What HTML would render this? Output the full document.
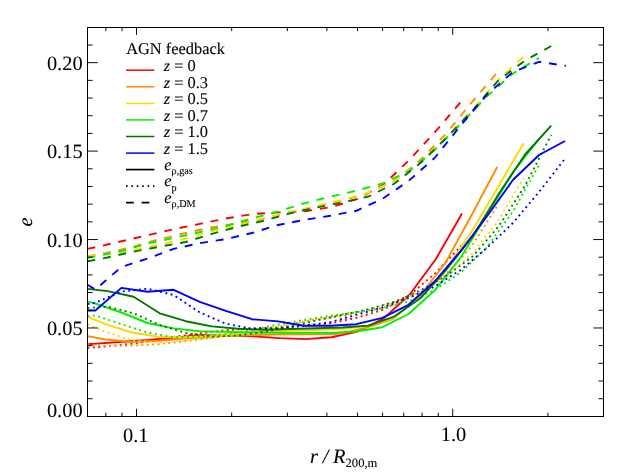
<!DOCTYPE html>
<html><head><meta charset="utf-8"><title>chart</title>
<style>html,body{margin:0;padding:0;background:#fff;}body{width:629px;height:472px;position:relative;overflow:hidden;font-family:"Liberation Serif",serif;}</style>
</head><body>
<svg width="629" height="472" viewBox="0 0 629 472" style="position:absolute;left:0;top:0;will-change:transform;text-rendering:geometricPrecision">
<rect x="0" y="0" width="629" height="472" fill="#fff"/>
<polyline points="87.5,344.2 96.6,343.6 122.7,341.8 148.8,340 174.9,337.5 201.0,335.2 227.1,335.4 253.2,336.3 279.3,338.1 305.4,339.1 331.5,337.2 357.6,331.5 383.7,318.4 409.8,294.5 435.9,259 462.0,213.5" fill="none" stroke="#ff0000" stroke-width="1.9" stroke-linejoin="round"/>
<polyline points="87.5,347.8 96.6,347.3 122.7,344.8 148.8,341.3 174.9,336.8 201.0,333.3 227.1,330.1 253.2,328.2 279.3,327.6 305.4,326 331.5,323.2 357.6,317.5 383.7,309.5 409.8,295 435.9,272.6 462.0,245" fill="none" stroke="#ff0000" stroke-width="1.9" stroke-linejoin="round" stroke-dasharray="1.9 3.5"/>
<polyline points="87.5,248.9 96.6,247 122.7,241 148.8,234.9 174.9,229 201.0,223.6 227.1,218.3 253.2,214 279.3,212.4 305.4,211.2 331.5,207 357.6,198.9 383.7,184.5 409.8,159.5 435.9,131 462.0,100.5" fill="none" stroke="#ff0000" stroke-width="1.9" stroke-linejoin="round" stroke-dasharray="7.9 7.85"/>
<polyline points="87.5,336.1 105.7,339.5 131.8,342 157.9,340.8 184.0,338.5 210.1,336.8 236.2,335.5 262.3,334.8 288.4,334.3 314.5,334.4 340.6,333.8 366.7,327.5 392.8,319 418.9,297 445.0,263.5 471.1,216 497.2,167" fill="none" stroke="#ff8c00" stroke-width="1.9" stroke-linejoin="round"/>
<polyline points="87.5,344.2 105.7,346 131.8,345.6 157.9,344.2 184.0,341.3 210.1,338 236.2,334.5 262.3,330 288.4,324.7 314.5,319.6 340.6,316.2 366.7,312.5 392.8,305 418.9,293.5 445.0,275.5 471.1,247 497.2,206" fill="none" stroke="#ff8c00" stroke-width="1.9" stroke-linejoin="round" stroke-dasharray="1.9 3.5"/>
<polyline points="87.5,256.2 105.7,253 131.8,247.3 157.9,239.6 184.0,233.4 210.1,227.5 236.2,223.6 262.3,219 288.4,213 314.5,207 340.6,201 366.7,193.5 392.8,182 418.9,161.5 445.0,134.9 471.1,103.2 497.2,72.5" fill="none" stroke="#ff8c00" stroke-width="1.9" stroke-linejoin="round" stroke-dasharray="7.9 7.85"/>
<polyline points="87.5,316.5 106.0,324.3 132.1,332.5 158.2,336.8 184.3,337.3 210.4,336 236.5,333.5 262.6,331.5 288.7,330.8 314.8,330 340.9,329 367.0,326 393.1,318 419.2,298.5 445.3,270.5 471.4,232 497.5,188 523.6,143.2" fill="none" stroke="#ffd700" stroke-width="1.9" stroke-linejoin="round"/>
<polyline points="87.5,324.3 106.0,332 132.1,340.3 158.2,342.5 184.3,340.5 210.4,338.3 236.5,334 262.6,329.5 288.7,324.5 314.8,319.5 340.9,315.5 367.0,310 393.1,302.5 419.2,292.3 445.3,278 471.4,254.5 497.5,222 523.6,178" fill="none" stroke="#ffd700" stroke-width="1.9" stroke-linejoin="round" stroke-dasharray="1.9 3.5"/>
<polyline points="87.5,256.5 106.0,254 132.1,250.3 158.2,245 184.3,239 210.4,231.6 236.5,225.3 262.6,218.7 288.7,212.5 314.8,206.2 340.9,200.2 367.0,193.2 393.1,181.5 419.2,163 445.3,138.5 471.4,111.3 497.5,80.5 523.6,56.8" fill="none" stroke="#ffd700" stroke-width="1.9" stroke-linejoin="round" stroke-dasharray="7.9 7.85"/>
<polyline points="87.5,301.6 95.3,303.5 121.4,312.5 147.5,323 173.6,328.4 199.7,331.2 225.8,331.9 251.9,332.5 278.0,332.8 304.1,332.9 330.2,332.9 356.3,331.5 382.4,327.2 408.5,314 434.6,290.5 460.7,257.5 486.8,215.3 512.9,172.5 539.0,139" fill="none" stroke="#00f000" stroke-width="1.9" stroke-linejoin="round"/>
<polyline points="87.5,316 95.3,315.5 121.4,324.2 147.5,332.6 173.6,337.3 199.7,336.8 225.8,334 251.9,330 278.0,324.5 304.1,320 330.2,315.8 356.3,312.3 382.4,308.2 408.5,301.5 434.6,290 460.7,272.6 486.8,247.6 512.9,211.5 539.0,165" fill="none" stroke="#00f000" stroke-width="1.9" stroke-linejoin="round" stroke-dasharray="1.9 3.5"/>
<polyline points="87.5,257.8 95.3,256.4 121.4,251 147.5,243.5 173.6,238 199.7,232.2 225.8,226 251.9,218.5 278.0,211.5 304.1,203.3 330.2,196.7 356.3,190.7 382.4,183.5 408.5,171.5 434.6,150 460.7,124 486.8,96.5 512.9,73.5 539.0,58" fill="none" stroke="#00f000" stroke-width="1.9" stroke-linejoin="round" stroke-dasharray="7.9 7.85"/>
<polyline points="87.5,288.9 107.5,291.1 133.6,296.8 159.7,313.3 185.8,321.2 211.9,326.4 238.0,328.8 264.1,329.8 290.2,329 316.3,328.3 342.4,327.5 368.5,325.6 394.6,316.3 420.7,298 446.8,269 472.9,236 499.0,193.5 525.1,154.5 551.2,125.7" fill="none" stroke="#007800" stroke-width="1.9" stroke-linejoin="round"/>
<polyline points="87.5,308 107.5,306.6 133.6,313.3 159.7,325 185.8,333 211.9,336.6 238.0,335.4 264.1,332 290.2,326.5 316.3,320.5 342.4,314.8 368.5,309.3 394.6,301.8 420.7,290.3 446.8,275.5 472.9,256.3 499.0,225.9 525.1,185.6 551.2,135" fill="none" stroke="#007800" stroke-width="1.9" stroke-linejoin="round" stroke-dasharray="1.9 3.5"/>
<polyline points="87.5,261.3 107.5,257.5 133.6,251.6 159.7,246.7 185.8,242 211.9,233.9 238.0,226.7 264.1,220.7 290.2,213.3 316.3,207.5 342.4,202.5 368.5,196.5 394.6,183.5 420.7,162.8 446.8,137.5 472.9,110 499.0,79.8 525.1,60.5 551.2,46" fill="none" stroke="#007800" stroke-width="1.9" stroke-linejoin="round" stroke-dasharray="7.9 7.85"/>
<polyline points="87.5,310.5 95.3,310.5 121.4,287.9 147.5,291.7 173.6,289.8 199.7,301.8 225.8,310.8 251.9,319.2 278.0,321.4 304.1,325.7 330.2,325.8 356.3,324.2 382.4,317.9 408.5,304.8 434.6,281.5 460.7,251 486.8,216.5 512.9,180 539.0,155 565.1,141" fill="none" stroke="#0000ff" stroke-width="1.9" stroke-linejoin="round"/>
<polyline points="87.5,304.1 95.3,302.8 121.4,291.5 147.5,288.7 173.6,295 199.7,312.4 225.8,323.7 251.9,328.8 278.0,328.3 304.1,325.5 330.2,322.2 356.3,314.9 382.4,307.4 408.5,297.8 434.6,286.5 460.7,270 486.8,248 512.9,223 539.0,192 565.1,158.5" fill="none" stroke="#0000ff" stroke-width="1.9" stroke-linejoin="round" stroke-dasharray="1.9 3.5"/>
<polyline points="87.5,284.8 95.3,289.5 121.4,267 147.5,258.5 173.6,248.9 199.7,243.2 225.8,239.1 251.9,233 278.0,225 304.1,220 330.2,215.8 356.3,210.8 382.4,198.9 408.5,181 434.6,158 460.7,125.5 486.8,94.8 512.9,72 539.0,61.8 565.1,65.7 566.0,65.85" fill="none" stroke="#0000ff" stroke-width="1.9" stroke-linejoin="round" stroke-dasharray="7.9 7.85"/>
<rect x="87.5" y="27.5" width="516" height="389" fill="none" stroke="#000" stroke-width="1"/>
<path d="M136.49,416.4v-7.6M136.49,27.3v7.6M452.72,416.4v-7.6M452.72,27.3v7.6M105.84,416.4v-3.8M105.84,27.3v3.8M122.02,416.4v-3.8M122.02,27.3v3.8M231.68,416.4v-3.8M231.68,27.3v3.8M287.37,416.4v-3.8M287.37,27.3v3.8M326.88,416.4v-3.8M326.88,27.3v3.8M357.52,416.4v-3.8M357.52,27.3v3.8M382.56,416.4v-3.8M382.56,27.3v3.8M403.73,416.4v-3.8M403.73,27.3v3.8M422.07,416.4v-3.8M422.07,27.3v3.8M438.25,416.4v-3.8M438.25,27.3v3.8M547.91,416.4v-3.8M547.91,27.3v3.8M87.5,398.71h5.1M603.6,398.71h-5.1M87.5,381.03h5.1M603.6,381.03h-5.1M87.5,363.34h5.1M603.6,363.34h-5.1M87.5,345.65h5.1M603.6,345.65h-5.1M87.5,327.97h10.3M603.6,327.97h-10.3M87.5,310.28h5.1M603.6,310.28h-5.1M87.5,292.60h5.1M603.6,292.60h-5.1M87.5,274.91h5.1M603.6,274.91h-5.1M87.5,257.22h5.1M603.6,257.22h-5.1M87.5,239.54h10.3M603.6,239.54h-10.3M87.5,221.85h5.1M603.6,221.85h-5.1M87.5,204.16h5.1M603.6,204.16h-5.1M87.5,186.48h5.1M603.6,186.48h-5.1M87.5,168.79h5.1M603.6,168.79h-5.1M87.5,151.10h10.3M603.6,151.10h-10.3M87.5,133.42h5.1M603.6,133.42h-5.1M87.5,115.73h5.1M603.6,115.73h-5.1M87.5,98.05h5.1M603.6,98.05h-5.1M87.5,80.36h5.1M603.6,80.36h-5.1M87.5,62.67h10.3M603.6,62.67h-10.3M87.5,44.99h5.1M603.6,44.99h-5.1" fill="none" stroke="#000" stroke-width="0.95"/>
<text x="82.6" y="69.7" font-family="Liberation Serif, serif" stroke="#000" stroke-width="0.1" font-size="20.4" text-anchor="end">0.20</text>
<text x="82.6" y="158.1" font-family="Liberation Serif, serif" stroke="#000" stroke-width="0.1" font-size="20.4" text-anchor="end">0.15</text>
<text x="82.6" y="246.5" font-family="Liberation Serif, serif" stroke="#000" stroke-width="0.1" font-size="20.4" text-anchor="end">0.10</text>
<text x="82.6" y="335.0" font-family="Liberation Serif, serif" stroke="#000" stroke-width="0.1" font-size="20.4" text-anchor="end">0.05</text>
<text x="82.6" y="416.9" font-family="Liberation Serif, serif" stroke="#000" stroke-width="0.1" font-size="20.4" text-anchor="end">0.00</text>
<text x="135.7" y="441.6" font-family="Liberation Serif, serif" stroke="#000" stroke-width="0.1" font-size="20.4" text-anchor="middle">0.1</text>
<text x="453.5" y="441.0" font-family="Liberation Serif, serif" stroke="#000" stroke-width="0.1" font-size="20.4" text-anchor="middle">1.0</text>
<text x="310.1" y="462.9" font-family="Liberation Serif, serif" stroke="#000" stroke-width="0.1" font-size="20.4" font-style="italic" word-spacing="-0.4">r / R<tspan font-style="normal" font-size="12.6" dy="4">200,m</tspan></text>
<text transform="translate(32.1,226.4) rotate(-90)" font-family="Liberation Serif, serif" stroke="#000" stroke-width="0.1" font-size="20.4" font-style="italic">e</text>
<text x="126.2" y="53.8" font-family="Liberation Serif, serif" stroke="#000" stroke-width="0.1" font-size="16.4">AGN feedback</text>
<line x1="126" x2="154.4" y1="70.2" y2="70.2" stroke="#ff0000" stroke-width="1.5"/>
<text x="163.7" y="71.0" font-family="Liberation Serif, serif" stroke="#000" stroke-width="0.1" font-size="16.4"><tspan font-style="italic">z</tspan> = 0</text>
<line x1="126" x2="154.4" y1="86.8" y2="86.8" stroke="#ff8c00" stroke-width="1.5"/>
<text x="163.7" y="87.6" font-family="Liberation Serif, serif" stroke="#000" stroke-width="0.1" font-size="16.4"><tspan font-style="italic">z</tspan> = 0.3</text>
<line x1="126" x2="154.4" y1="103.4" y2="103.4" stroke="#ffd700" stroke-width="1.5"/>
<text x="163.7" y="104.2" font-family="Liberation Serif, serif" stroke="#000" stroke-width="0.1" font-size="16.4"><tspan font-style="italic">z</tspan> = 0.5</text>
<line x1="126" x2="154.4" y1="119.9" y2="119.9" stroke="#00f000" stroke-width="1.5"/>
<text x="163.7" y="120.7" font-family="Liberation Serif, serif" stroke="#000" stroke-width="0.1" font-size="16.4"><tspan font-style="italic">z</tspan> = 0.7</text>
<line x1="126" x2="154.4" y1="136.5" y2="136.5" stroke="#007800" stroke-width="1.5"/>
<text x="163.7" y="137.3" font-family="Liberation Serif, serif" stroke="#000" stroke-width="0.1" font-size="16.4"><tspan font-style="italic">z</tspan> = 1.0</text>
<line x1="126" x2="154.4" y1="153.1" y2="153.1" stroke="#0000ff" stroke-width="1.5"/>
<text x="163.7" y="153.9" font-family="Liberation Serif, serif" stroke="#000" stroke-width="0.1" font-size="16.4"><tspan font-style="italic">z</tspan> = 1.5</text>
<line x1="126" x2="154.4" y1="169.6" y2="169.6" stroke="#000" stroke-width="1.7"/>
<text x="164.3" y="169.6" font-family="Liberation Serif, serif" stroke="#000" stroke-width="0.1" font-size="16.4" font-style="italic">e<tspan font-style="normal" font-size="10.2" dy="4.4">ρ,gas</tspan></text>
<line x1="126" x2="154.4" y1="186.2" y2="186.2" stroke="#000" stroke-width="1.7" stroke-dasharray="1.6 3.8"/>
<text x="164.3" y="186.2" font-family="Liberation Serif, serif" stroke="#000" stroke-width="0.1" font-size="16.4" font-style="italic">e<tspan font-style="normal" font-size="10.2" dy="4.4">p</tspan></text>
<line x1="126" x2="154.4" y1="202.7" y2="202.7" stroke="#000" stroke-width="1.7" stroke-dasharray="7.8 7.8"/>
<text x="164.3" y="202.7" font-family="Liberation Serif, serif" stroke="#000" stroke-width="0.1" font-size="16.4" font-style="italic">e<tspan font-style="normal" font-size="10.2" dy="4.4">ρ,DM</tspan></text>
</svg>
</body></html>
